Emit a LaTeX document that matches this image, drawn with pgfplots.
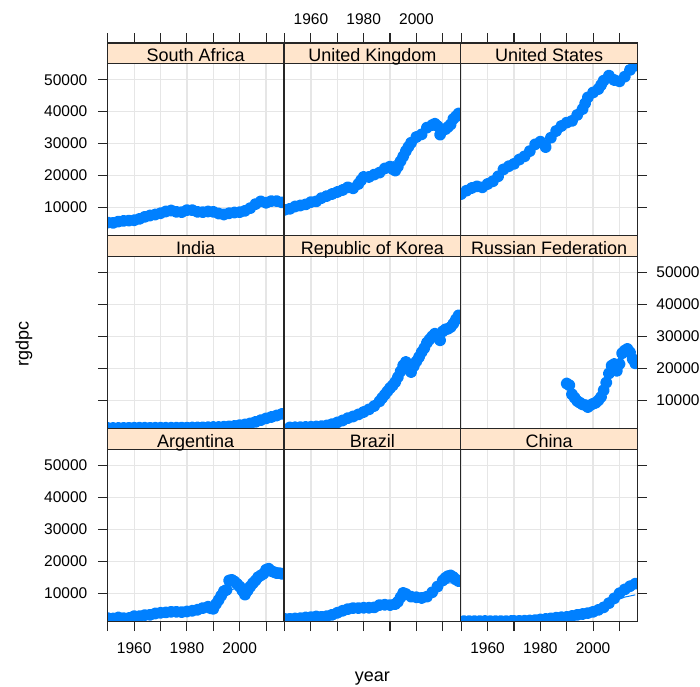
\documentclass[border=0pt]{standalone}
\usepackage{fontspec}
\setmainfont{Liberation Sans}
\usepackage{pgfplots}
\pgfplotsset{compat=1.18}
\definecolor{ptblue}{HTML}{0080FF}
\definecolor{stripbg}{HTML}{FFE5CC}
\definecolor{gridc}{HTML}{E6E6E6}
\definecolor{framec}{HTML}{262626}
\newcommand\tickfont{\fontsize{15.5}{16}\selectfont}
\newcommand\stripfont{\fontsize{18}{20}\selectfont}

\pgfplotsset{
  panel/.style={
    anchor=south west, scale only axis,
    width=176.7pt, height=192.9pt,
    xmin=1949.8, xmax=2016.8, ymin=1100, ymax=61480,
    axis line style={framec, line width=1.1pt},
    tick style={framec, line width=1.1pt},
    major tick length=9.5pt, tick align=outside,
    xtick=\empty, ytick=\empty,
    scaled x ticks=false, scaled y ticks=false,
    ticklabel style={font=\tickfont, text=black},
    clip marker paths=true,
    axis on top,
  },
  xtop/.style={xtick={1950,1960,...,2010}, xtick pos=right, xticklabel pos=right,
    xticklabel style={yshift=5.5pt}},
  xbot/.style={xtick={1950,1960,...,2010}, xtick pos=left, xticklabel pos=left,
    xticklabel style={yshift=-8pt}},
  xlab/.style={xticklabels={,1960,,1980,,2000,}},
  xnolab/.style={xticklabels={,,,,,,}},
  yleft/.style={ytick={10000,20000,...,50000}, ytick pos=left, yticklabel pos=left,
    yticklabel style={xshift=-7pt}},
  yright/.style={ytick={10000,20000,...,50000}, ytick pos=right, yticklabel pos=right,
    yticklabel style={xshift=6pt}},
  ylab/.style={yticklabels={10000,20000,30000,40000,50000}},
  ynolab/.style={yticklabels={,,,,}},
  pts/.style={mark=*, mark size=3.4pt, color=ptblue, line width=5.2pt,
    line join=round, line cap=round, mark options={draw=none, fill=ptblue}},
  sm/.style={no markers, line width=1pt, color=ptblue},
}

% light grid under the points
\newcommand\panelgrid{%
  \pgfplotsinvokeforeach{1950,1960,1970,1980,1990,2000,2010}{%
    \draw[gridc, line width=1.3pt] (axis cs:##1,1100) -- (axis cs:##1,54970);}%
  \pgfplotsinvokeforeach{10000,20000,30000,40000,50000}{%
    \draw[gridc, line width=1.3pt] (axis cs:1949.8,##1) -- (axis cs:2016.8,##1);}%
}
% strip with country name on top of each panel
\newcommand\strip[1]{%
  \fill[stripbg] (axis cs:1949.8,54970) rectangle (axis cs:2016.8,61480);
  \draw[framec, line width=1.1pt] (axis cs:1949.8,54970) -- (axis cs:2016.8,54970);
  \node[anchor=base, font=\stripfont, inner sep=0pt] at (axis cs:1983.3,55690) {#1};
}

\begin{document}
\begin{tikzpicture}
\path[use as bounding box] (0,0) rectangle (700pt,686pt);

% ---------------- row 1 ----------------
\begin{axis}[panel, at={(107.3pt,450.1pt)}, xtop, xnolab, yleft, ylab]
  \panelgrid
  \addplot[pts] coordinates {
    (1950,5275)(1952,5170)(1954,5590)(1956,5800)(1958,5900)(1960,6000)
    (1962,6430)(1964,7060)(1966,7480)(1968,7800)(1970,8200)(1972,8740)
    (1974,9050)(1976,8630)(1978,8530)(1980,9160)(1982,9160)(1984,8630)
    (1986,8530)(1988,8740)(1990,8630)(1992,8110)(1994,7800)(1996,8200)
    (1998,8420)(2000,8530)(2002,8950)(2004,9790)(2006,11050)(2008,11900)
    (2010,11470)(2012,12000)(2014,12000)(2016,11580)};
  \strip{South Africa}
\end{axis}

\begin{axis}[panel, at={(284.0pt,450.1pt)}, xtop, xlab]
  \panelgrid
  \addplot[pts] coordinates {
    (1950,9265)(1952,9580)(1954,10300)(1956,10630)(1958,10950)(1960,11680)
    (1962,11900)(1964,12940)(1966,13570)(1968,14200)(1970,14830)(1972,15460)
    (1974,16300)(1976,15990)(1978,17350)(1979,18500)(1980,19550)(1982,19550)
    (1984,20300)(1986,20900)(1988,22200)(1990,22800)(1991,22000)(1992,21550)
    (1993,22800)(1994,24500)(1995,26000)(1996,27640)(1997,29000)(1998,30270)
    (2000,32050)(2002,32900)(2004,35000)(2006,35800)(2007,36200)(2008,35500)
    (2009,32800)(2010,34200)(2011,34500)(2012,35200)(2013,36000)(2014,37700)
    (2015,38500)(2016,39400)};
  \addplot[sm] coordinates {
    (1950,9300)(1960,11500)(1970,14700)(1980,18600)(1985,20800)(1990,23500)
    (1995,26500)(2000,31000)(2005,34800)(2010,35300)(2016,39000)};
  \strip{United Kingdom}
\end{axis}

\begin{axis}[panel, at={(460.7pt,450.1pt)}, xtop, xnolab, yright, ynolab]
  \panelgrid
  \addplot[pts] coordinates {
    (1950,14200)(1952,15250)(1954,16100)(1956,16600)(1958,16300)(1960,17350)
    (1962,18200)(1964,19750)(1966,21900)(1968,22900)(1970,23650)(1972,25000)
    (1974,26000)(1976,27640)(1978,29740)(1980,30600)(1982,28900)(1984,31840)
    (1986,33940)(1988,35500)(1990,36560)(1992,37090)(1994,38980)(1996,40800)
    (1997,42600)(1998,44440)(2000,46000)(2002,47060)(2003,48300)(2004,49690)
    (2006,51270)(2008,49900)(2010,49480)(2012,50950)(2014,53050)(2016,54400)};
  \strip{United States}
\end{axis}

% ---------------- row 2 ----------------
\begin{axis}[panel, at={(107.3pt,257.2pt)}, yleft, ynolab]
  \panelgrid
  \addplot[pts] coordinates {
    (1950,1350)(1952,1350)(1954,1370)(1956,1380)(1958,1400)(1960,1420)
    (1962,1430)(1964,1420)(1966,1400)(1968,1420)(1970,1430)(1972,1420)
    (1974,1420)(1976,1440)(1978,1460)(1980,1450)(1982,1500)(1984,1530)
    (1986,1560)(1988,1600)(1990,1650)(1992,1650)(1994,1750)(1996,1880)
    (1998,2000)(2000,2250)(2002,2450)(2004,2800)(2006,3250)(2008,3800)
    (2010,4350)(2012,4800)(2014,5250)(2016,5750)};
  \strip{India}
\end{axis}

\begin{axis}[panel, at={(284.0pt,257.2pt)}]
  \panelgrid
  \addplot[pts] coordinates {
    (1952,1520)(1954,1570)(1956,1620)(1958,1680)(1960,1730)(1962,1820)
    (1964,1930)(1966,2140)(1968,2560)
    (1970,3080)(1972,3700)(1974,4440)(1976,4960)(1978,5600)(1980,6350)
    (1982,7180)(1984,8230)(1986,9690)(1987,10730)(1988,11770)(1989,12820)
    (1990,13860)(1991,14690)(1992,15740)(1993,17300)(1994,19070)(1995,20950)
    (1996,22000)(1997,20740)(1998,18870)(1999,20740)(2000,22200)(2001,23560)
    (2002,25120)(2003,26370)(2004,28040)(2005,29090)(2006,30030)(2007,30860)
    (2008,30500)(2009,28800)(2010,31600)(2011,32220)(2012,32420)(2013,32950)
    (2014,34000)(2015,35340)(2016,36600)};
  \addplot[sm] coordinates {
    (1953,1300)(1960,1800)(1965,2300)(1970,3300)(1975,4800)(1980,6700)
    (1985,9400)(1990,13800)(1995,18800)(2000,23000)(2005,28000)(2010,31800)
    (2016,36300)};
  \strip{Republic of Korea}
\end{axis}

\begin{axis}[panel, at={(460.7pt,257.2pt)}, yright, ylab]
  \panelgrid
  \addplot[pts] coordinates {
    (1990,15270)(1991,14740)(1992,11900)(1993,10840)(1994,9790)(1995,9260)
    (1996,8740)(1997,8530)(1998,7900)(1999,8530)(2000,8950)(2001,9260)
    (2002,10000)(2003,11050)(2004,13160)(2005,15580)(2006,18420)(2007,20850)
    (2008,21370)(2009,19270)(2010,21370)(2011,24740)(2012,25580)(2013,26110)
    (2014,25050)(2015,22950)(2016,21580)};
  \addplot[sm] coordinates {
    (1990,14800)(1992,12500)(1994,10500)(1996,9200)(1998,8600)(2000,9000)
    (2002,10300)(2004,12800)(2006,16300)(2008,19800)(2010,22300)(2012,24200)
    (2014,24800)(2016,24300)};
  \strip{Russian Federation}
\end{axis}

% ---------------- row 3 ----------------
\begin{axis}[panel, at={(107.3pt,64.3pt)}, xbot, xlab, yleft, ylab]
  \panelgrid
  \addplot[pts] coordinates {
    (1950,2210)(1952,2100)(1954,2420)(1956,2210)(1958,2250)(1959,2150)
    (1960,2840)(1962,2840)(1964,3160)(1966,3260)(1968,3680)(1970,3890)
    (1972,4000)(1974,4200)(1976,4200)(1978,4100)(1980,4300)(1982,4520)
    (1984,4840)(1986,5370)(1988,5790)(1989,5300)(1990,5160)(1991,6630)
    (1992,7900)(1993,9260)(1994,10630)(1995,11050)(1996,14000)(1997,14200)
    (1998,13690)(1999,12950)(2000,12100)(2001,10840)(2002,9580)(2003,10840)
    (2004,12100)(2005,13160)(2006,14000)(2007,15050)(2008,15580)(2009,16100)
    (2010,17370)(2011,17690)(2012,16950)(2013,16630)(2014,16320)(2015,16300)
    (2016,16100)};
  \addplot[sm] coordinates {
    (1950,2300)(1960,2800)(1970,3700)(1980,4400)(1985,5000)(1990,6300)
    (1993,8600)(1996,11000)(2000,11700)(2003,12300)(2006,14000)(2010,16300)
    (2016,16400)};
  \strip{Argentina}
\end{axis}

\begin{axis}[panel, at={(284.0pt,64.3pt)}, xbot, xnolab]
  \panelgrid
  \addplot[pts] coordinates {
    (1950,2000)(1952,2000)(1954,2100)(1956,2200)(1958,2420)(1960,2520)
    (1962,2730)(1964,2630)(1966,2840)(1968,3260)(1970,3890)(1972,4520)
    (1974,5050)(1976,5370)(1978,5370)(1980,5470)(1982,5470)(1984,5580)
    (1986,6310)(1988,6420)(1990,6310)(1992,6630)(1993,7370)(1994,8740)
    (1995,10100)(1996,9790)(1998,8950)(2000,8740)(2002,8530)(2004,8950)
    (2006,10300)(2008,12100)(2010,14000)(2011,14800)(2012,15370)(2013,15580)
    (2014,15050)(2015,14300)(2016,13800)};
  \addplot[sm] coordinates {
    (1950,1900)(1960,2500)(1970,3700)(1980,5400)(1990,6500)(1995,8000)
    (2000,8800)(2004,9800)(2008,11600)(2012,13200)(2016,13400)};
  \strip{Brazil}
\end{axis}

\begin{axis}[panel, at={(460.7pt,64.3pt)}, xbot, xlab, yright, ynolab]
  \panelgrid
  \addplot[pts] coordinates {
    (1951,1280)(1953,1280)(1955,1290)(1957,1300)(1959,1320)(1961,1280)
    (1963,1290)(1965,1300)(1967,1300)(1969,1320)(1970,1330)(1972,1360)
    (1974,1400)(1976,1480)(1978,1600)(1980,1800)(1982,1950)(1984,2150)
    (1986,2350)(1988,2500)(1990,2600)(1992,2900)(1994,3250)(1996,3500)
    (1998,3800)(2000,4200)(2002,4800)(2004,5600)(2006,6900)(2008,8400)
    (2010,10000)(2012,11200)(2014,12200)(2016,13000)};
  \addplot[sm] coordinates {
    (1952,1250)(1970,1350)(1980,1800)(1990,2600)(2000,4300)(2004,5800)
    (2008,7600)(2012,8800)(2016,9500)};
  \strip{China}
\end{axis}

\node[font=\stripfont, anchor=base] at (372.4pt,5pt) {year};
\node[font=\stripfont, rotate=90, anchor=base] at (28.5pt,342.3pt) {rgdpc};
\end{tikzpicture}
\end{document}
